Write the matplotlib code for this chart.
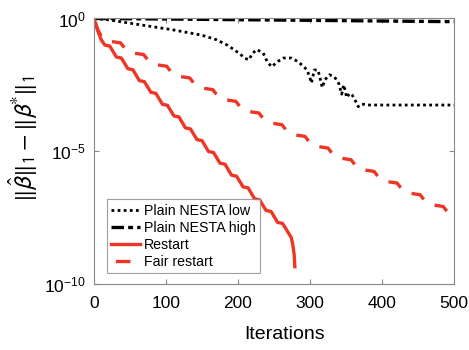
import numpy as np
import matplotlib
matplotlib.use("Agg")
import matplotlib.pyplot as plt

plt.rcParams["font.family"] = ["Liberation Sans", "DejaVu Sans"]
plt.rcParams["mathtext.fontset"] = "custom"
plt.rcParams["mathtext.rm"] = "Liberation Sans"
plt.rcParams["mathtext.it"] = "Liberation Sans:italic"
plt.rcParams["lines.scale_dashes"] = False

# Plain NESTA low (dotted) - log10 of error
low_it = [0, 20, 60, 110, 150, 170, 185, 200, 210, 215, 220, 226, 235, 241, 247,
          254, 263, 274, 283, 290, 296, 300, 302, 306, 311, 314, 317, 321, 327,
          334, 340, 344, 347, 351, 355, 359, 363, 367, 372, 380, 500]
low_val = [0, -0.05, -0.22, -0.43, -0.63, -0.80, -1.00, -1.28, -1.50, -1.56,
           -1.32, -1.17, -1.30, -1.65, -1.82, -1.64, -1.49, -1.49, -1.62, -1.78,
           -1.94, -2.25, -2.43, -1.94, -1.94, -2.25, -2.60, -2.30, -2.12, -2.20,
           -2.45, -2.85, -2.50, -2.98, -2.82, -2.90, -3.10, -3.32, -3.22, -3.26,
           -3.26]

# Plain NESTA high (dash-dot)
high_it = [0, 100, 200, 300, 400, 500]
high_val = [0, -0.02, -0.045, -0.07, -0.095, -0.12]

# Restart (solid)
rest_it = [0, 5, 10, 15, 22, 31, 38, 47, 54, 63, 70, 79, 86, 95, 102, 111, 118,
           127, 134, 143, 150, 159, 166, 175, 182, 191, 198, 207, 214, 223, 230,
           239, 246, 255, 262, 271, 274, 276, 278, 279]
rest_val = [0, -0.45, -0.80, -1.00, -1.04, -1.45, -1.49, -1.89, -1.93, -2.34,
            -2.38, -2.78, -2.82, -3.23, -3.27, -3.67, -3.71, -4.12, -4.16, -4.56,
            -4.60, -5.01, -5.05, -5.45, -5.49, -5.90, -5.94, -6.34, -6.38, -6.79,
            -6.83, -7.23, -7.27, -7.68, -7.72, -8.12, -8.25, -8.50, -8.90, -9.35]

# Fair restart (dashed)
fair_it = [0, 5, 11, 15, 37, 47, 69, 79, 101, 111, 133, 143, 165, 175, 197, 207,
           229, 239, 261, 271, 293, 303, 325, 335, 357, 367, 389, 399, 421, 431,
           453, 463, 485, 491]
fair_val = [0, -0.40, -0.72, -0.83, -0.92, -1.27, -1.36, -1.71, -1.80, -2.15,
            -2.24, -2.59, -2.68, -3.03, -3.12, -3.47, -3.56, -3.91, -4.00, -4.35,
            -4.44, -4.79, -4.88, -5.23, -5.32, -5.67, -5.76, -6.11, -6.20, -6.55,
            -6.64, -6.99, -7.08, -7.29]

red = "#EE3526"
dpi = 100

fig = plt.figure(figsize=(4.69, 3.5), dpi=dpi)
ax = fig.add_axes([0.2004, 0.1886, 0.7676, 0.7586])
ax.set_yscale("log")
ax.set_xlim(0, 500)
ax.set_ylim(1e-10, 1e0)

ax.plot(low_it, 10.0 ** np.array(low_val), color="black", lw=2.0,
        linestyle=(0, (2.0, 2.4)), label="Plain NESTA low")
ax.plot(high_it, 10.0 ** np.array(high_val), color="black", lw=2.4,
        linestyle=(0, (9.0, 3.0, 3.5, 3.0)), label="Plain NESTA high")
ax.plot(rest_it, 10.0 ** np.array(rest_val), color=red, lw=2.4,
        label="Restart")

# dash pattern matched to the staircase period of the fair restart curve
pts = ax.transData.transform(np.column_stack([fair_it, 10.0 ** np.array(fair_val)]))
seg = np.hypot(*np.diff(pts, axis=0).T)
cum = np.concatenate([[0], np.cumsum(seg)])
i0 = 5
period = cum[i0 + 2] - cum[i0]
frac = 10 / 22
s_on = cum[i0] + frac * seg[i0]
on = (1 - frac) * seg[i0] + 0.5 * seg[i0 + 1]
k = 72.0 / dpi
offset = ((-s_on) % period) * k
ax.plot(fair_it, 10.0 ** np.array(fair_val), color=red, lw=2.4,
        linestyle=(offset, (on * k, (period - on) * k)), label="Fair restart")

ax.set_xticks([0, 100, 200, 300, 400, 500])
ax.set_yticks([1e-10, 1e-5, 1e0])
ax.set_yticklabels([r"$\mathregular{10^{-10}}$", r"$\mathregular{10^{-5}}$",
                    r"$\mathregular{10^{0}}$"])
ax.minorticks_off()
ax.tick_params(direction="in", length=3.5, width=0.8, color="#888888",
               labelsize=12.5, top=True, right=True)
ax.tick_params(axis="x", pad=9)
ax.tick_params(axis="y", pad=6)
for s in ax.spines.values():
    s.set_color("#888888")
    s.set_linewidth(0.8)

ax.set_xlabel("Iterations", fontsize=14)
ax.xaxis.set_label_coords(0.53, -0.16)
ax.set_ylabel(r"$\|\hat{\beta}\|_1 - \|\beta^{*}\|_1$", fontsize=17.5,
              math_fontfamily="stixsans")
ax.yaxis.set_label_coords(-0.15, 0.545)

leg = ax.legend(loc="lower left", bbox_to_anchor=(0.036, 0.041), fontsize=10.2,
                frameon=True, fancybox=False, edgecolor="#888888",
                handlelength=2.0, handletextpad=0.3, labelspacing=0.22,
                borderpad=0.3, borderaxespad=0)
leg.get_frame().set_linewidth(0.8)

fig.savefig("out.png", dpi=dpi)
